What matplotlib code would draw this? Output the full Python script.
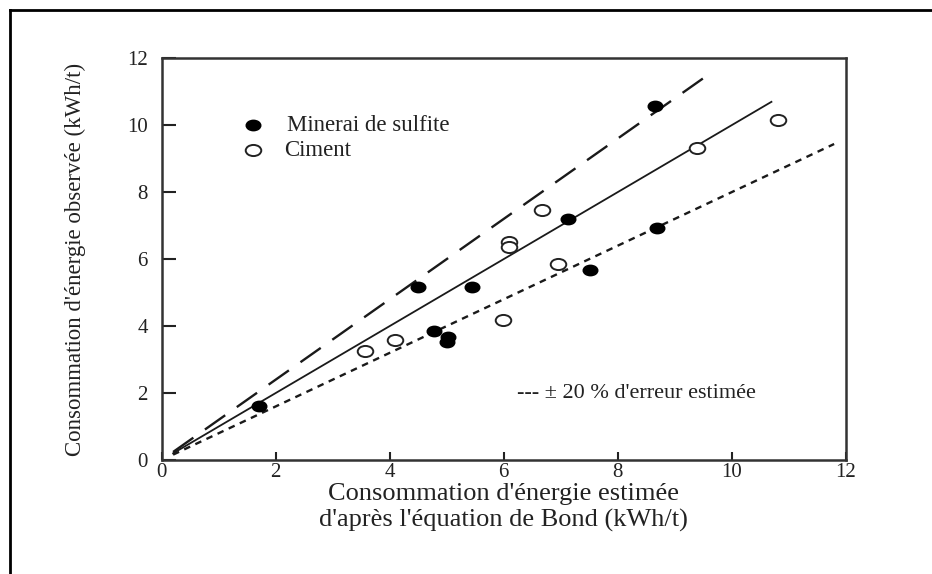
"""
Energie observee vs energie estimee (equation de Bond), minerai de sulfite et ciment
"""
import matplotlib
matplotlib.use("Agg")
import matplotlib.pyplot as plt
from matplotlib.markers import MarkerStyle
from matplotlib.transforms import Affine2D
from matplotlib.lines import Line2D

plt.rcParams['font.family'] = ['Liberation Serif', 'DejaVu Serif']

# points mesures
sulfite_x = [1.70, 4.50, 5.45, 4.78, 5.03, 5.00, 7.13, 7.51, 8.70, 8.65]
sulfite_y = [1.62, 5.18, 5.18, 3.85, 3.68, 3.52, 7.19, 5.67, 6.93, 10.59]
ciment_x = [3.57, 4.10, 5.99, 6.67, 6.09, 6.09, 6.96, 9.40, 10.81]
ciment_y = [3.26, 3.59, 4.18, 7.48, 6.51, 6.36, 5.85, 9.33, 10.17]

# droites : egalite, +20 %, -20 %
egal_x, egal_y = [0.2, 10.7], [0.2, 10.7]
plus_x, plus_y = [0.2, 9.6], [0.24, 11.52]
moins_x, moins_y = [0.2, 11.8], [0.16, 9.44]

ticks = [0, 2, 4, 6, 8, 10, 12]

fig = plt.figure(figsize=(9.32, 5.74), dpi=100)
ax = fig.add_axes([0.1735, 0.1986, 0.7337, 0.6998])

ell = MarkerStyle('o', transform=Affine2D().scale(1.4, 1.0))

ax.plot(egal_x, egal_y, color='#1a1a1a', lw=1.3)
ax.plot(plus_x, plus_y, color='#1a1a1a', lw=1.7, dashes=(10.5, 6))
ax.plot(moins_x, moins_y, color='#1a1a1a', lw=1.7, dashes=(2.8, 2.4))

ax.plot(sulfite_x, sulfite_y, ls='none', marker=ell, ms=7.5,
        mfc='black', mec='black', mew=1)
ax.plot(ciment_x, ciment_y, ls='none', marker=ell, ms=8,
        mfc='white', mec='#222222', mew=1.4)

ax.set_xlim(0, 12)
ax.set_ylim(0, 12)
ax.set_xticks(ticks)
ax.set_yticks(ticks)
ax.tick_params(axis='x', direction='in', length=6, width=1.5, pad=2,
               labelsize=15, colors='#222222')
ax.tick_params(axis='y', direction='in', length=10, width=1.5, pad=10,
               labelsize=15, colors='#222222')
for sp in ax.spines.values():
    sp.set_linewidth(1.8)
    sp.set_color('#333333')

ax.set_ylabel("Consommation d'énergie observée (kWh/t)", fontsize=16.5,
              color='#222222')
ax.yaxis.set_label_coords(-0.11, 0.5)
ax.set_xlabel("Consommation d'énergie estimée\nd'après l'équation de Bond (kWh/t)",
              fontsize=19, color='#222222', linespacing=1.2)
ax.xaxis.set_label_coords(0.5, -0.057)
ax.xaxis.label.set_va('top')

# legende manuelle
ax.plot([1.6], [10.0], ls='none', marker=ell, ms=7.5, mfc='black', mec='black',
        clip_on=False)
ax.text(2.2, 10.0, "Minerai de sulfite", fontsize=16.5, va='center', color='#222222')
ax.plot([1.6], [9.25], ls='none', marker=ell, ms=8, mfc='white', mec='#222222',
        mew=1.4)
ax.text(2.15, 9.25, "Ciment", fontsize=16.5, va='center', color='#222222')

ax.text(6.23, 2.0, "--- ± 20 % d'erreur estimée", fontsize=16, va='center',
        color='#222222')

# cadre exterieur (haut et gauche)
fig.add_artist(Line2D([10 / 932, 10 / 932], [0, 1 - 10 / 574], color='black', lw=2))
fig.add_artist(Line2D([10 / 932, 1], [1 - 10 / 574, 1 - 10 / 574], color='black', lw=2))

fig.savefig('out.png', dpi=100)
